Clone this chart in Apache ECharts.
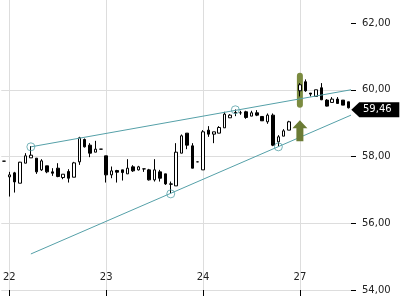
<!DOCTYPE html>
<html><head><meta charset="utf-8">
<script src="https://cdn.jsdelivr.net/npm/echarts@6/dist/echarts.min.js"></script>
<style>html,body{margin:0;padding:0;background:#fff}#c{width:400px;height:300px}</style>
</head><body><div id="c"></div>
<script>
const dayLabels = ['22', '23', '24', '27'];
const dayStarts = [1, 19, 37, 55];
const opens  = [57.86,57.39,57.51,57.20,57.80,57.96,57.95,57.60,57.72,57.54,57.65,57.37,57.55,57.38,57.84,58.51,58.34,58.13,58.22,58.02,57.45,57.58,57.60,57.48,57.69,57.60,57.63,57.60,57.30,57.54,57.48,57.18,57.12,58.10,58.70,58.32,57.84,57.60,58.79,58.67,58.70,58.86,59.16,59.30,59.31,59.34,59.21,59.31,59.20,59.04,59.24,58.44,58.61,58.79,null,59.97,60.24,59.90,59.80,60.06,59.69,59.62,59.72,59.69,59.64];
const closes = [57.86,57.45,57.24,57.83,58.02,58.04,57.54,57.87,57.54,57.50,57.40,57.47,57.35,57.81,58.56,58.29,58.10,58.22,58.22,57.45,57.57,57.53,57.52,57.65,57.57,57.69,57.63,57.30,57.60,57.35,57.18,57.17,58.13,58.62,58.34,57.65,57.84,58.74,58.67,58.74,58.87,59.27,59.24,59.32,59.31,59.17,59.31,59.24,59.07,59.24,58.34,58.59,58.77,59.04,null,60.15,59.97,59.87,60.00,59.70,59.51,59.72,59.59,59.54,59.46];
const lows   = [57.86,56.80,56.92,57.20,57.80,57.96,57.48,57.57,57.50,57.42,57.38,57.32,57.22,57.38,57.75,58.27,57.98,58.13,58.22,57.22,57.35,57.22,57.28,57.48,57.54,57.58,57.54,57.28,57.25,57.25,57.15,56.90,57.12,58.10,58.22,57.65,57.84,57.60,58.59,58.40,58.70,58.86,59.16,59.21,59.25,59.13,59.21,59.21,59.07,58.98,58.31,58.31,58.61,58.79,null,59.80,59.94,59.80,59.80,59.69,59.50,59.62,59.59,59.54,59.44];
const highs  = [57.86,57.54,57.54,57.84,58.10,58.31,57.95,57.92,57.72,57.65,57.80,57.47,57.62,57.84,58.59,58.54,58.40,58.47,58.22,58.02,57.70,57.60,57.60,57.92,57.74,57.72,57.63,57.63,57.92,57.60,57.48,57.25,58.40,58.66,58.70,58.40,57.84,58.79,58.91,58.74,58.91,59.34,59.27,59.41,59.37,59.37,59.37,59.39,59.20,59.29,59.29,58.64,58.82,59.07,null,60.20,60.31,59.90,60.00,60.20,59.72,59.78,59.78,59.69,59.64];
const yTicks = [54, 56, 58, 60, 62];
const upperTrend = [[5, 58.29], [64.5, 60.00]];
const lowerTrend = [[5, 55.08], [64.5, 59.24]];
const touchPoints = [[5, 58.29], [43, 59.40], [31, 56.88], [51, 58.29]];
const signalBar = [[55, 60.51, 59.46]];
const signalArrow = [[55, 59.09, 58.46]];

const cats = opens.map((_, i) => String(i));
const candles = opens.map((o, i) => o == null ? '-' : [o, closes[i], lows[i], highs[i]]);
const isDay = (idx) => dayStarts.indexOf(Number(idx)) >= 0;
const fmt = v => v.toFixed(2).replace('.', ',');
const teal = '#55a0a8';
const font = 'DejaVu Sans';
const last = closes.length - 1;

const chart = echarts.init(document.getElementById('c'), null, {renderer: 'canvas'});
chart.setOption({
  animation: false,
  grid: {left: 0, right: 49, top: 0, bottom: 10},
  xAxis: [{
    type: 'category', data: cats, boundaryGap: true,
    axisLine: {show: false, onZero: false},
    axisTick: {show: true, alignWithLabel: true, interval: (i) => isDay(i), length: 6, lineStyle: {color: '#000'}},
    axisLabel: {inside: true, interval: (i) => isDay(i), margin: 8, fontSize: 10, fontFamily: font, color: '#222',
      formatter: (v) => dayLabels[dayStarts.indexOf(Number(v))] || ''},
    splitLine: {show: true, alignWithLabel: true, interval: (i) => isDay(i), lineStyle: {color: '#ddd'}}
  }, {
    type: 'value', min: -0.5, max: 64.5, show: false
  }],
  yAxis: {
    type: 'value', position: 'right', min: 54, max: 62.69, interval: 2,
    axisLine: {show: true, onZero: false, lineStyle: {color: 'rgba(0,0,0,0)'}},
    axisTick: {show: true, length: 5, customValues: yTicks, lineStyle: {color: '#000', width: 1}},
    axisLabel: {showMaxLabel: false, margin: 11, fontSize: 10, fontFamily: font, color: '#222', formatter: fmt},
    splitLine: {show: true, showMaxLine: false, lineStyle: {color: '#ddd'}}
  },
  series: [{
    type: 'custom', xAxisIndex: 0, z: 1, silent: true,
    data: signalBar, encode: {x: 0, y: [1, 2]},
    renderItem: (params, api) => {
      const t = api.coord([api.value(0), api.value(1)]);
      const b = api.coord([api.value(0), api.value(2)]);
      return {type: 'rect', shape: {x: t[0] - 3, y: t[1], width: 6, height: b[1] - t[1], r: 3}, style: {fill: '#7b8b40'}};
    }
  }, {
    type: 'candlestick', xAxisIndex: 0, z: 2, barWidth: 3,
    data: candles,
    itemStyle: {color: '#fff', color0: '#000', borderColor: '#000', borderColor0: '#000', borderColorDoji: '#000', borderWidth: 1},
    markPoint: {
      silent: true,
      symbol: 'path://M0,7.5 L8,0 L48,0 L48,15 L8,15 Z',
      symbolSize: [48, 15], symbolOffset: [27, 2],
      itemStyle: {color: '#000'},
      label: {show: true, position: 'inside', color: '#fff', fontSize: 10, fontFamily: font, offset: [2, 0],
        formatter: (p) => fmt(p.value)},
      data: [{coord: [cats[last], closes[last]], value: closes[last]}]
    }
  }, {
    type: 'line', xAxisIndex: 1, z: 3, silent: true, symbol: 'none',
    data: upperTrend, lineStyle: {color: teal, width: 1}
  }, {
    type: 'line', xAxisIndex: 1, z: 3, silent: true, symbol: 'none',
    data: lowerTrend, lineStyle: {color: teal, width: 1}
  }, {
    type: 'scatter', xAxisIndex: 1, z: 4, silent: true, symbol: 'circle', symbolSize: 8,
    data: touchPoints, itemStyle: {color: 'rgba(255,255,255,0)', borderColor: teal, borderWidth: 1}
  }, {
    type: 'custom', xAxisIndex: 0, z: 5, silent: true,
    data: signalArrow, encode: {x: 0, y: [1, 2]},
    renderItem: (params, api) => {
      const t = api.coord([api.value(0), api.value(1)]);
      const b = api.coord([api.value(0), api.value(2)]);
      const cx = t[0], hh = 8, hw = 7.5, sw = 3.5;
      return {type: 'polygon', shape: {points: [
        [cx, t[1]], [cx + hw, t[1] + hh], [cx + sw, t[1] + hh], [cx + sw, b[1]],
        [cx - sw, b[1]], [cx - sw, t[1] + hh], [cx - hw, t[1] + hh]]}, style: {fill: '#6b7b35'}};
    }
  }]
});
</script>
</body></html>
